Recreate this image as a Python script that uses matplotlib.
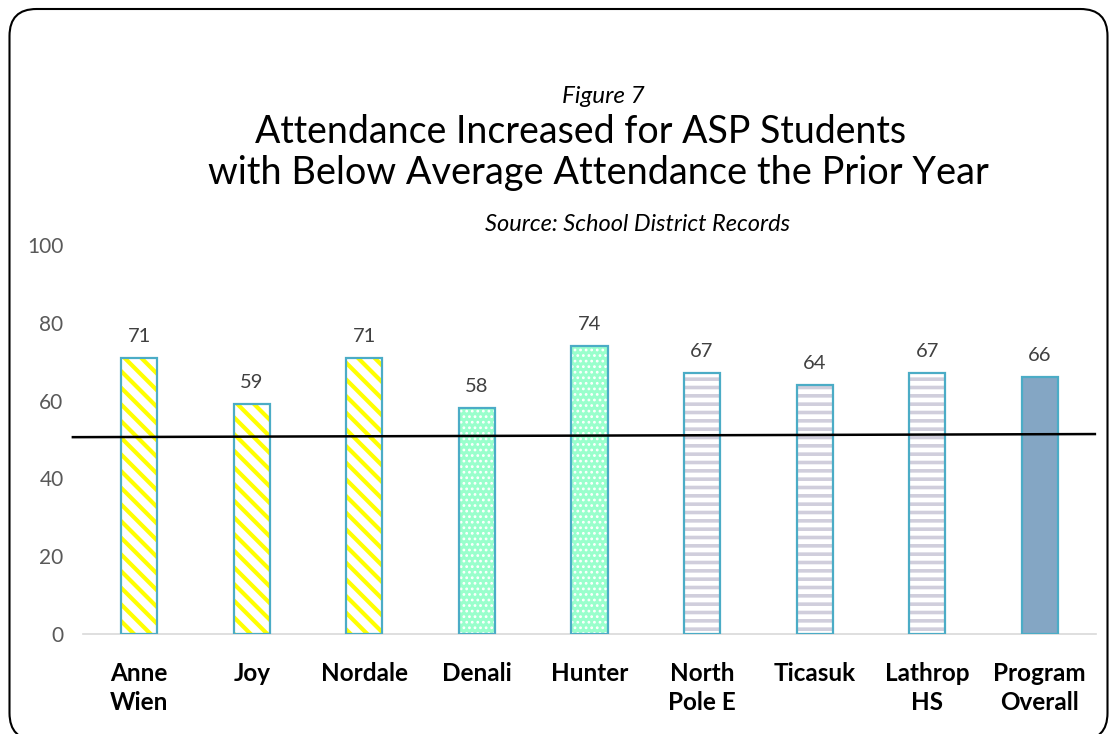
import matplotlib.pyplot as plt
import matplotlib as mpl
from matplotlib.patches import FancyBboxPatch

# -----------------------------
# Data
# -----------------------------
schools = ["Anne\nWien", "Joy", "Nordale", "Denali", "Hunter",
           "North\nPole E", "Ticasuk", "Lathrop\nHS", "Program\nOverall"]
attendance = [71, 59, 71, 58, 74, 67, 64, 67, 66]
groups = ["stripe", "stripe", "stripe", "dots", "dots",
          "hline", "hline", "hline", "solid"]

# reference line drawn across the chart (prior-year average)
ref_x = [-0.59, 8.49]
ref_y = [50.6, 51.4]

FONT = ["Lato", "DejaVu Sans"]
plt.rcParams["font.family"] = FONT

EDGE = "#4BACC6"
W, H = 1115, 734

styles = {
    "stripe": dict(face="white", hatch="\\\\", hcolor="#FFFF00", hlw=3.0),
    "dots": dict(face="#99FFCC", hatch="...", hcolor="white", hlw=1.2),
    "hline": dict(face="white", hatch="--", hcolor="#D0CEDC", hlw=2.6),
    "solid": dict(face="#84A6C4", hatch=None, hcolor="#84A6C4", hlw=1.0),
}


def fy(px):
    # pixel row from the top -> figure fraction
    return 1 - px / H


def main():
    fig = plt.figure(figsize=(W / 100, H / 100), dpi=100)
    ax = fig.add_axes([83 / W, fy(634), 1013 / W, 389 / H])

    x = range(len(schools))
    for i, (val, grp) in enumerate(zip(attendance, groups)):
        st = styles[grp]
        with mpl.rc_context({"hatch.linewidth": st["hlw"]}):
            ax.bar(i, val, width=0.32, color=st["face"], hatch=st["hatch"],
                   edgecolor=st["hcolor"], linewidth=0, zorder=2)
        ax.bar(i, val, width=0.32, facecolor="none", edgecolor=EDGE,
               linewidth=1.6, zorder=3)
        ax.text(i, val + 3.4, str(val), ha="center", va="bottom",
                fontsize=14.5, color="#404040")

    ax.plot(ref_x, ref_y, color="black", linewidth=1.8, zorder=4,
            clip_on=False)

    ax.set_xlim(-0.5, len(schools) - 0.5)
    ax.set_ylim(0, 100)
    ax.set_yticks(range(0, 101, 20))
    ax.set_xticks(list(x))
    ax.set_xticklabels(schools, fontsize=17.5, fontweight="bold",
                       color="black", linespacing=1.35)
    ax.tick_params(axis="y", length=0, pad=14, labelsize=15,
                   labelcolor="#595959")
    ax.tick_params(axis="x", length=0, pad=20)

    for side in ["top", "right", "left"]:
        ax.spines[side].set_visible(False)
    ax.spines["bottom"].set_color("#D9D9D9")
    ax.spines["bottom"].set_linewidth(1.2)

    # titles
    fig.text(603 / W, fy(103), "Figure 7", ha="center", va="baseline",
             fontsize=17.5, style="italic")
    fig.text(581 / W, fy(143), "Attendance Increased for ASP Students",
             ha="center", va="baseline", fontsize=27)
    fig.text(598 / W, fy(184),
             "with Below Average Attendance the Prior Year",
             ha="center", va="baseline", fontsize=27.3)
    fig.text(638 / W, fy(231), "Source: School District Records",
             ha="center", va="baseline", fontsize=17, style="italic")

    # rounded frame
    frame = FancyBboxPatch((0.095, -0.06), 10.98, 7.31,
                           boxstyle="round,pad=0,rounding_size=0.27",
                           transform=fig.dpi_scale_trans, facecolor="none",
                           edgecolor="black", linewidth=1.5)
    fig.patches.append(frame)

    fig.savefig("out.png", dpi=100)
    plt.close(fig)


if __name__ == "__main__":
    main()
